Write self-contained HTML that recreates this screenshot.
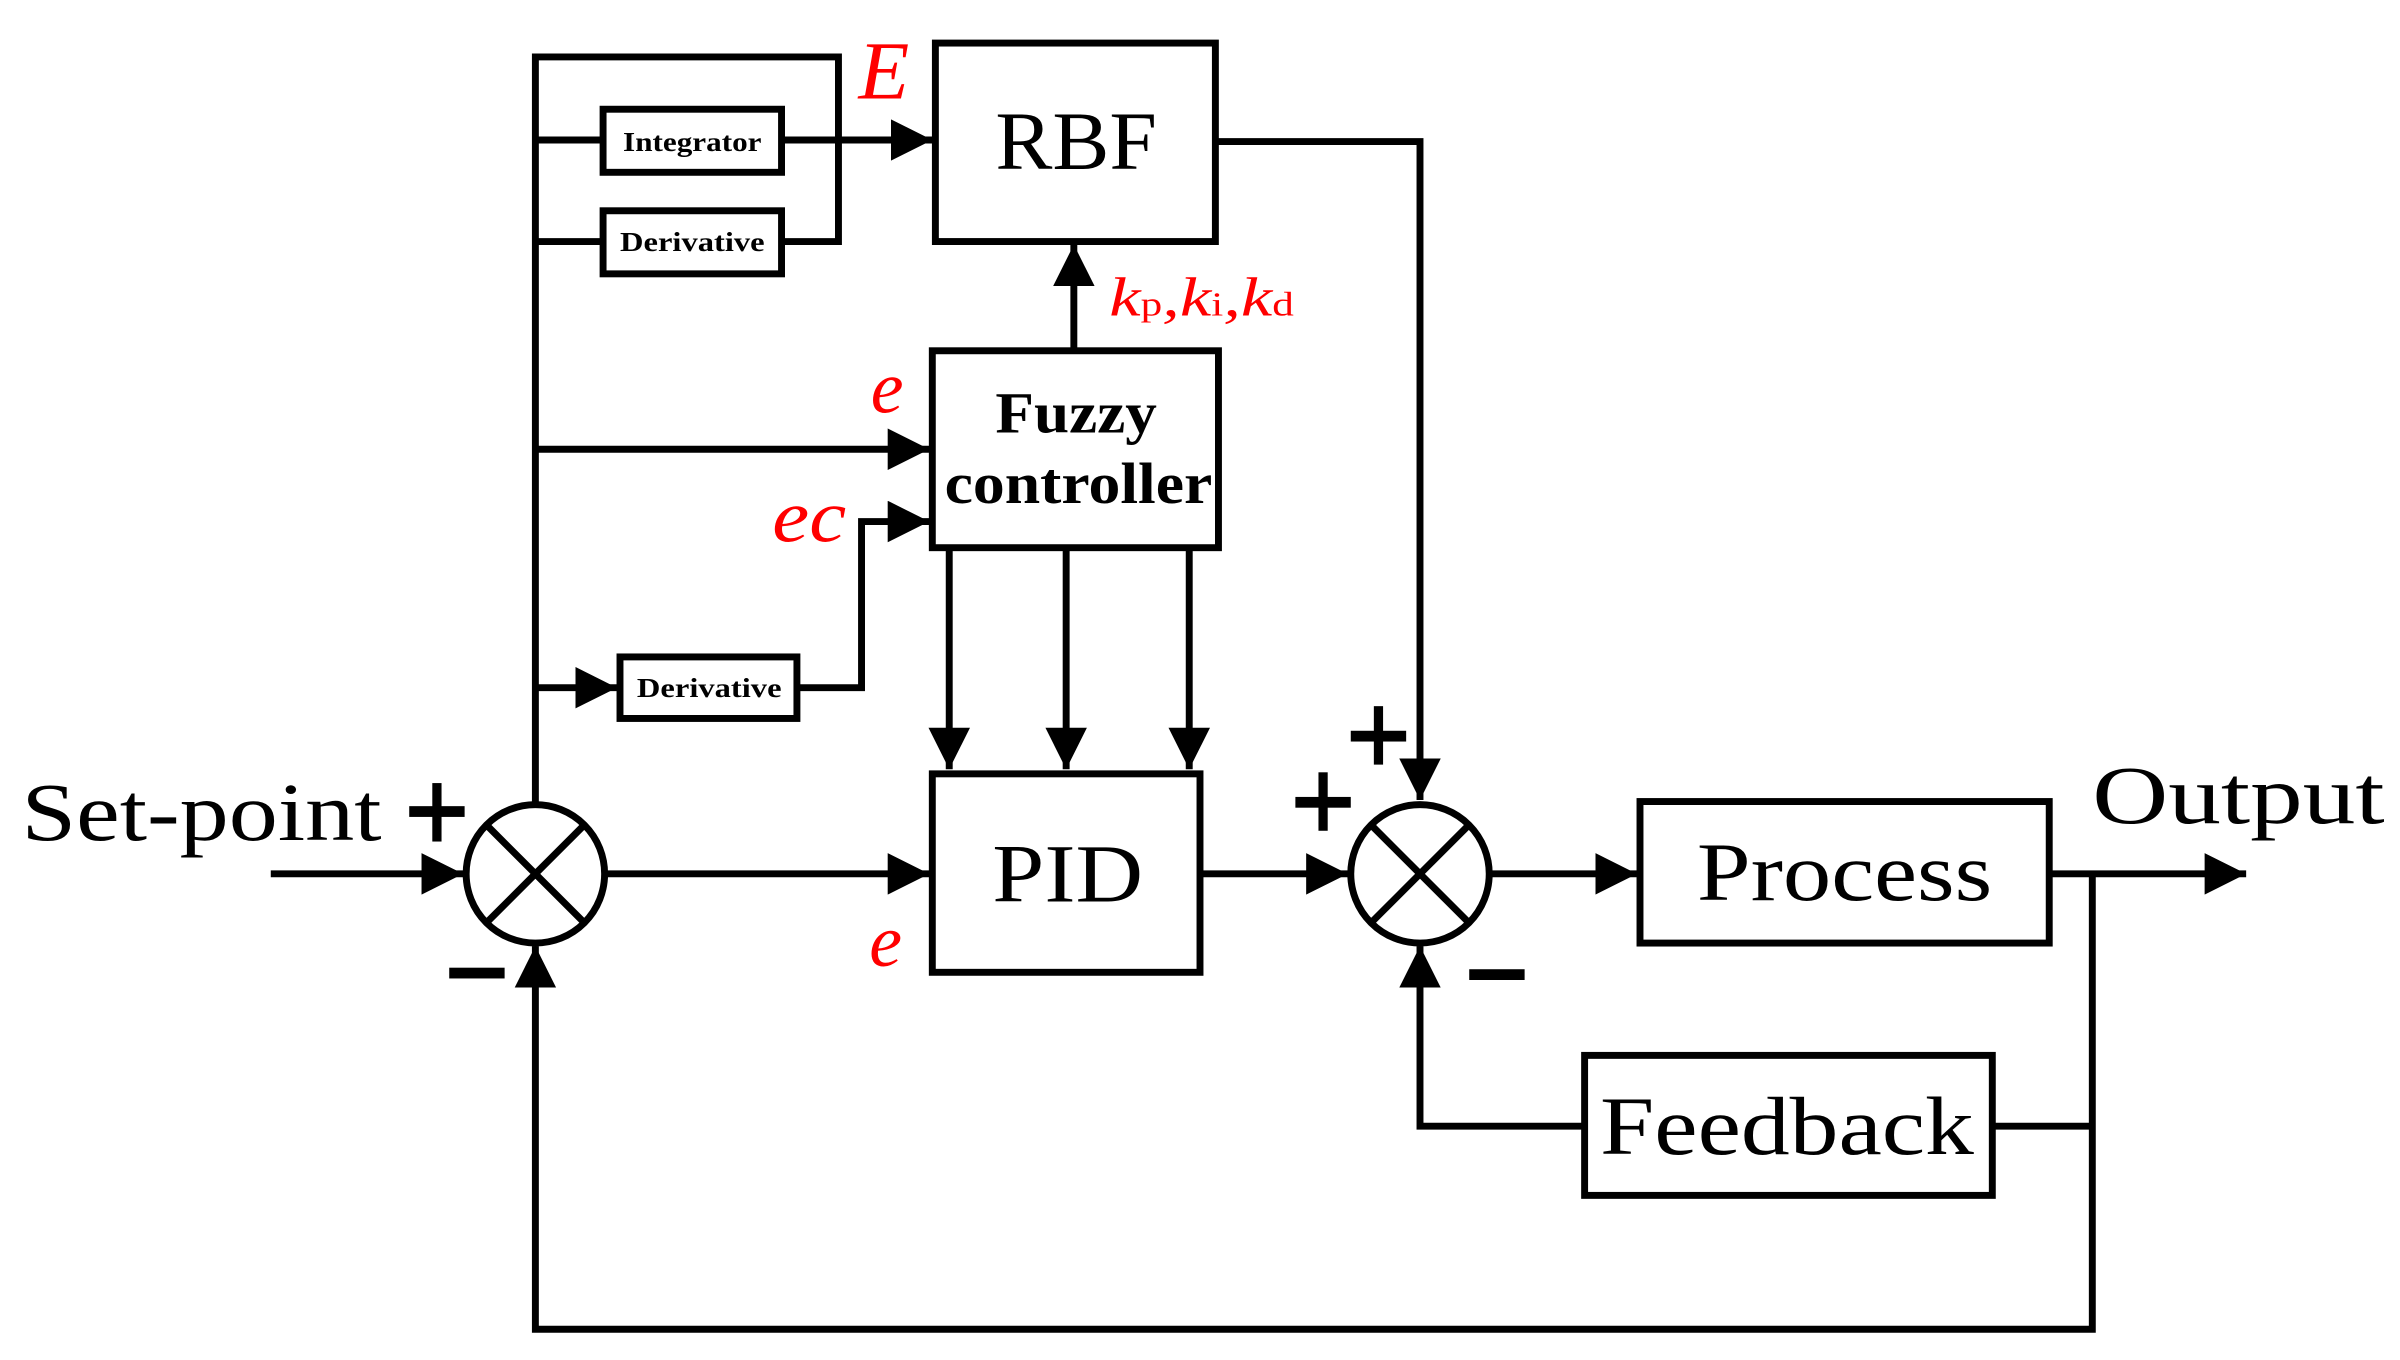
<!DOCTYPE html>
<html><head><meta charset="utf-8"><style>
html,body{margin:0;padding:0;background:#fff;width:2400px;height:1360px;overflow:hidden}
svg{display:block}
text{font-family:"Liberation Serif",serif}
</style></head><body>
<svg width="2400" height="1360" viewBox="0 0 1560 884" preserveAspectRatio="none" xmlns="http://www.w3.org/2000/svg">
<defs>
<marker id="a" markerWidth="6" markerHeight="6" refX="6" refY="3" orient="auto" markerUnits="strokeWidth"><path d="M0,0L6,3L0,6z" fill="#000"/></marker>
</defs>
<g stroke="#000" stroke-width="4.5" fill="none">
<polyline points="348,522 348,37 545,37 545,157 508,157"/>
<line x1="348" y1="91" x2="392" y2="91"/>
<line x1="348" y1="157" x2="392" y2="157"/>
<rect x="392" y="71" width="116" height="41"/>
<rect x="392" y="137" width="116" height="41"/>
<line x1="508" y1="91" x2="606" y2="91" marker-end="url(#a)"/>
<rect x="608" y="28" width="182" height="129"/>
<polyline points="790,92 923,92 923,520" marker-end="url(#a)"/>
<line x1="698" y1="228" x2="698" y2="159" marker-end="url(#a)"/>
<rect x="606" y="228" width="186" height="128"/>
<line x1="348" y1="292" x2="604" y2="292" marker-end="url(#a)"/>
<line x1="348" y1="447" x2="401" y2="447" marker-end="url(#a)"/>
<rect x="403" y="427" width="115" height="40"/>
<polyline points="518,447 560,447 560,339 604,339" marker-end="url(#a)"/>
<line x1="617" y1="356" x2="617" y2="500" marker-end="url(#a)"/>
<line x1="693" y1="356" x2="693" y2="500" marker-end="url(#a)"/>
<line x1="773" y1="356" x2="773" y2="500" marker-end="url(#a)"/>
<rect x="606" y="503" width="174" height="129"/>
<circle cx="348" cy="568" r="45"/>
<line x1="316" y1="536" x2="380" y2="600"/><line x1="380" y1="536" x2="316" y2="600"/>
<line x1="176" y1="568" x2="301" y2="568" marker-end="url(#a)"/>
<line x1="393" y1="568" x2="604" y2="568" marker-end="url(#a)"/>
<line x1="780" y1="568" x2="876" y2="568" marker-end="url(#a)"/>
<circle cx="923" cy="568" r="45"/>
<line x1="891" y1="536" x2="955" y2="600"/><line x1="955" y1="536" x2="891" y2="600"/>
<line x1="968" y1="568" x2="1064" y2="568" marker-end="url(#a)"/>
<rect x="1066" y="521" width="266" height="92"/>
<line x1="1332" y1="568" x2="1460" y2="568" marker-end="url(#a)"/>
<polyline points="1360,568 1360,864 348,864 348,615" marker-end="url(#a)"/>
<rect x="1030" y="686" width="265" height="91"/>
<line x1="1295" y1="732" x2="1360" y2="732"/>
<polyline points="1030,732 923,732 923,615" marker-end="url(#a)"/>
</g>
<g fill="#000">
<text x="405" y="98" font-size="18" font-weight="bold" textLength="90" lengthAdjust="spacingAndGlyphs">Integrator</text>
<text x="403" y="163" font-size="18" font-weight="bold" textLength="94" lengthAdjust="spacingAndGlyphs">Derivative</text>
<text x="414" y="453" font-size="18" font-weight="bold" textLength="94" lengthAdjust="spacingAndGlyphs">Derivative</text>
<text x="647" y="110" font-size="54" textLength="105" lengthAdjust="spacingAndGlyphs">RBF</text>
<text x="647" y="281" font-size="38" font-weight="bold" textLength="105" lengthAdjust="spacingAndGlyphs">Fuzzy</text>
<text x="614" y="327" font-size="38" font-weight="bold" textLength="174" lengthAdjust="spacingAndGlyphs">controller</text>
<text x="645" y="586" font-size="54" textLength="98" lengthAdjust="spacingAndGlyphs">PID</text>
<text x="1103" y="585" font-size="54" textLength="192" lengthAdjust="spacingAndGlyphs">Process</text>
<text x="1040" y="750" font-size="54" textLength="243" lengthAdjust="spacingAndGlyphs">Feedback</text>
<text x="14" y="546" font-size="54" textLength="234" lengthAdjust="spacingAndGlyphs">Set-point</text>
<text x="1360" y="535" font-size="54" textLength="190" lengthAdjust="spacingAndGlyphs">Output</text>
<rect x="266" y="524" width="36" height="7"/><rect x="281" y="509" width="6" height="38"/>
<rect x="842" y="518" width="36" height="7"/><rect x="857" y="502" width="6" height="38"/>
<rect x="878" y="475" width="36" height="7"/><rect x="893" y="459" width="6" height="38"/>
<rect x="292" y="629" width="36" height="7"/>
<rect x="955" y="630" width="36" height="7"/>
</g>
<g fill="#f00" font-style="italic">
<text x="558" y="64" font-size="54">E</text>
<text x="566" y="268" font-size="48">e</text>
<text x="502" y="352" font-size="48" textLength="48" lengthAdjust="spacingAndGlyphs">ec</text>
<text x="565" y="628" font-size="48">e</text>
<text x="721" y="205" font-size="36" textLength="120" lengthAdjust="spacingAndGlyphs">k<tspan font-size="22" font-style="normal">p</tspan>,k<tspan font-size="22" font-style="normal">i</tspan>,k<tspan font-size="22" font-style="normal">d</tspan></text>
</g>
</svg>
</body></html>
